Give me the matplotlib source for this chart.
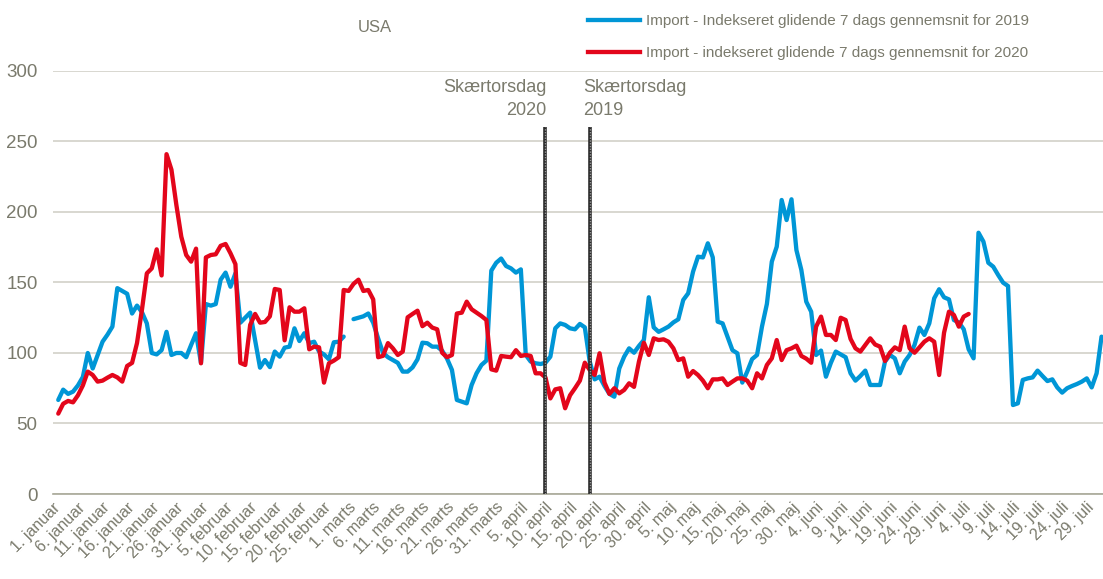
import numpy as np
import pandas as pd
import matplotlib
matplotlib.use("Agg")
import matplotlib.pyplot as plt
from matplotlib.lines import Line2D

plt.rcParams['font.family'] = ['Liberation Sans', 'DejaVu Sans']

nan = np.nan

# dage 1. januar - 31. juli (2020-kalender, 29. feb findes ikke i 2019)
dates = pd.date_range("2020-01-01", "2020-07-31", freq="D")

# Import - indekseret glidende 7 dags gennemsnit for 2019
import_2019 = [
    66.7, 74, 71, 72.6, 77, 83, 100, 89, 98.6, 108,
    113, 118.7, 146, 144, 142, 128, 133.6, 129, 121, 100,
    99, 102, 115, 98.6, 100, 100, 97, 105.7, 114, 93,
    134.7, 133.6, 134.7, 152, 157, 147, 156.5, 121.5, 125, 128.6,
    109, 89.6, 95, 90, 101, 97.4, 103.8, 104.5, 117.5, 108.5,
    114, 107, 108, 101, 99, 95.5, 107.6, 108, 111.6, nan,
    124, 125, 126, 128, 121.5, 110.4, 100, 97, 95, 93,
    86.8, 86.8, 89.8, 95.5, 107.3, 106.9, 104.5, 104.5, 101.7, 96,
    88, 66.7, 65.5, 64.3, 77.3, 85.6, 91.5, 94.6, 158.4, 164,
    167, 161.7, 160, 157, 159.3, 98.6, 93.9, 92.7, 92.2, 93.1,
    97.4, 117.5, 121, 119.9, 117.5, 116.8, 120.6, 118.2, 93.9, 81.3,
    83.2, 76.6, 71, 69, 89, 97.4, 103.3, 100.2, 105, 109.2,
    139.5, 118.2, 115, 116.8, 118.7, 121.7, 123.9, 137.6, 142.3, 157.7,
    168.3, 167.8, 177.8, 167.8, 122.2, 121, 111.6, 102, 99.8, 79,
    86.8, 95.7, 98.6, 118.7, 134.8, 164.8, 175.4, 208.5, 194.3, 209,
    173, 158.9, 136.4, 129.3, 98.6, 101.7, 83.2, 93, 101, 99,
    97, 85.6, 80.4, 83.7, 87.5, 77.3, 77.3, 77.3, 93.9, 98.6,
    96.2, 85.6, 93.9, 98.6, 105.7, 118, 112.8, 121, 138.8, 145.2,
    139.5, 138, 123.4, 121.7, 116.8, 102.6, 96.2, 185.3, 179, 164,
    161.2, 155.3, 149.9, 147.5, 63.1, 64.3, 80.9, 82, 82.7, 87.5,
    83.7, 80.1, 81.3, 75.6, 71.9, 75, 76.6, 78, 79.7, 82,
    75.6, 85.6, 111.6,
]

# Import - indekseret glidende 7 dags gennemsnit for 2020
import_2020 = [
    57, 64, 66, 65, 70, 77, 86.8, 84.4, 79.7, 80.4,
    82.5, 84.4, 82.7, 79.7, 90.8, 93, 107, 130.5, 156.5, 160,
    173.5, 155, 241, 230, 205, 182.5, 169.5, 164.8, 174, 92.7,
    167.8, 169.5, 170, 176, 177.3, 170.7, 163, 93, 91.5, 119.9,
    127.7, 121.5, 122, 126, 145.4, 144.7, 109, 132.4, 129.3, 129.3,
    131.7, 102.6, 104.5, 104, 79, 92.7, 94.6, 97, 144.7, 144,
    149, 152, 144, 144.7, 138, 97, 98, 107, 103.3, 98.6,
    101, 125.3, 127.7, 130, 119, 121.5, 118, 116.8, 100.2, 97,
    98.6, 128, 128.6, 136.4, 131, 128.6, 126.2, 123.4, 88.4, 87.5,
    97.9, 97.4, 97, 102, 97.9, 98.6, 97.9, 85.6, 85.6, 82.7,
    67.8, 74.2, 75, 60.8, 70, 75, 80.4, 93.1, 88, 84.4,
    99.8, 79, 71, 75, 71.4, 73.8, 78.5, 76, 93.9, 107.3,
    98.6, 110.4, 109.2, 109.7, 108, 103.3, 95, 96.2, 83.2, 87.2,
    84.4, 80.4, 75, 81.3, 81.3, 82, 77.3, 79.7, 82, 82,
    80.4, 75, 85.6, 82, 91.5, 96.2, 109.2, 95, 102, 103.3,
    105.2, 97.9, 96, 93.1, 118.7, 125.8, 112.8, 112.8, 109.2, 125,
    123.4, 110, 103.3, 101, 105.7, 110.4, 106, 104.5, 94.3, 100.2,
    104, 102, 118.7, 103.3, 100.2, 104, 108, 110.4, 108, 84.4,
    114.4, 129.3, 127, 118.7, 125.8, 127.7,
]

tick_labels = [
    "1. januar", "6. januar", "11. januar", "16. januar", "21. januar", "26. januar",
    "31. januar", "5. februar", "10. februar", "15. februar", "20. februar", "25. februar",
    "1. marts", "6. marts", "11. marts", "16. marts", "21. marts", "26. marts", "31. marts",
    "5. april", "10. april", "15. april", "20. april", "25. april", "30. april",
    "5. maj", "10. maj", "15. maj", "20. maj", "25. maj", "30. maj",
    "4. juni", "9. juni", "14. juni", "19. juni", "24. juni", "29. juni",
    "4. juli", "9. juli", "14. juli", "19. juli", "24. juli", "29. juli",
]

# skærtorsdag (placeret på 2020-kalenderens dag)
easter_labels = ["Skærtorsdag\n2020", "Skærtorsdag\n2019"]
easter_dates = ["2020-04-09", "2020-04-18"]

label_2019 = "Import - Indekseret glidende 7 dags gennemsnit for 2019"
label_2020 = "Import - indekseret glidende 7 dags gennemsnit for 2020"

blue = "#0096d6"
red = "#e3061b"
grey = "#7a7a6c"

x = np.arange(len(dates))

fig = plt.figure(figsize=(11.03, 5.79), dpi=100)
ax = fig.add_axes([0.048, 0.1468, 0.952, 0.7306])

ax.plot(x, import_2019, color=blue, lw=3.1, solid_joinstyle="round", solid_capstyle="round", zorder=3)
ax.plot(x[:len(import_2020)], import_2020, color=red, lw=3.1, solid_joinstyle="round",
        solid_capstyle="round", zorder=4)

# lodrette streger for skærtorsdag
pos = [dates.get_loc(pd.Timestamp(d)) for d in easter_dates]
ax.vlines(pos, 0, 260, color="#2a2a2a", lw=2.6, zorder=5)
ax.vlines(pos, 0, 260, color="#9a9a9a", lw=1.0, linestyles=(0, (1, 1)), zorder=6)
ax.annotate(easter_labels[0], xy=(pos[0], 294), xytext=(1, 0), textcoords="offset points",
            ha="right", va="top", multialignment="right", fontsize=13, linespacing=1.4,
            color=grey)
ax.annotate(easter_labels[1], xy=(pos[1], 294), xytext=(-5, 0), textcoords="offset points",
            ha="left", va="top", multialignment="left", fontsize=13, linespacing=1.4,
            color=grey)

ax.set_ylim(0, 300)
ax.set_xlim(-1.08, 212.3)
ax.set_yticks(np.arange(0, 301, 50))
ax.yaxis.grid(True, color="#d2d1c8", lw=1.2)
ax.set_axisbelow(True)
ax.set_xticks(x[::5])
ax.set_xticklabels(tick_labels, rotation=45, ha="right", va="center", rotation_mode="anchor",
                   fontsize=11.5, color=grey)
ax.tick_params(axis="x", length=0, pad=8)
ax.tick_params(axis="y", length=0, pad=11, labelsize=13.5, labelcolor=grey)
for s in ["top", "right", "left"]:
    ax.spines[s].set_visible(False)
ax.spines["bottom"].set_color("#a8a898")
ax.spines["bottom"].set_linewidth(1.2)

fig.text(375 / 1103, 1 - 27 / 579, "USA", ha="center", va="center", fontsize=12, color=grey)

handles = [Line2D([], [], color=blue, lw=3.1), Line2D([], [], color=red, lw=3.1)]
fig.legend(handles, [label_2019, label_2020], loc="upper left",
           bbox_to_anchor=(588 / 1103, 1 - 14 / 579), frameon=False, fontsize=11,
           handlelength=3.4, handletextpad=0.4, labelspacing=1.2, borderpad=0,
           borderaxespad=0, labelcolor=grey)

fig.savefig("out.png", dpi=100)
